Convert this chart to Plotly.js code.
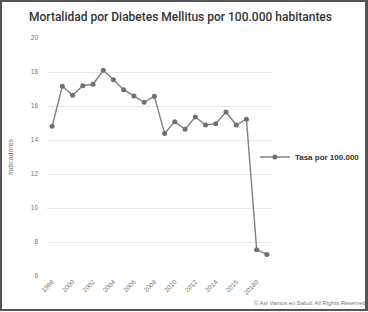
<!DOCTYPE html>
<html>
<head>
<meta charset="utf-8">
<script src="https://cdn.plot.ly/plotly-3.0.1.min.js"></script>
<style>
html,body{margin:0;padding:0;background:#fff;}
#frame{position:absolute;left:0;top:0;width:368px;height:311px;box-sizing:border-box;border:2px solid #555;border-right-width:3px;}
#chart{position:absolute;left:0;top:0;width:368px;height:312px;}
</style>
</head>
<body>
<div id="chart"></div>
<div id="frame"></div>
<script>
const years = ["1998","1999","2000","2001","2002","2003","2004","2005","2006","2007","2008","2009","2010","2011","2012","2013","2014","2015","2016","2017","2018","2019"];
const tasa = [14.81,17.16,16.63,17.19,17.28,18.10,17.55,16.96,16.59,16.22,16.57,14.38,15.08,14.63,15.35,14.88,14.96,15.65,14.88,15.22,7.55,7.27];
const xTickVals = ["1998","2000","2002","2004","2006","2008","2010","2012","2014","2016","2018"];
const xTickText = ["1998","2000","2002","2004","2006","2008","2010","2012","2014","2016","20180"];
const yTickVals = [6,8,10,12,14,16,18,20];
const seriesName = "Tasa por 100.000";

const trace = {
  x: years, y: tasa, type: "scatter", mode: "lines+markers", name: seriesName,
  line: {color: "#808080", width: 1.4},
  marker: {color: "#707070", size: 5}
};
const layout = {
  width: 368, height: 312,
  margin: {l: 47, r: 96, t: 38, b: 36, autoexpand: false},
  paper_bgcolor: "#fff", plot_bgcolor: "#fff",
  font: {family: "Liberation Sans, Arial, sans-serif", color: "#666", size: 7},
  title: {text: "Mortalidad por Diabetes Mellitus por 100.000 habitantes", x: 0.079, xanchor: "left", y: 0.945, yanchor: "middle",
          font: {family: "Roboto, Liberation Sans, sans-serif", size: 12, color: "#333", weight: 500}},
  xaxis: {type: "category", range: [-0.5, 21.5], tickvals: xTickVals, ticktext: xTickText, tickangle: -45,
          showgrid: false, zeroline: false, showline: false, ticks: "", tickfont: {size: 6.5, color: "#777"}},
  yaxis: {range: [6, 20], tickvals: yTickVals, showgrid: true, gridcolor: "#e6e6e6", gridwidth: 1, zeroline: false,
          ticks: "", ticklabelstandoff: 8, tickfont: {size: 6.5, color: "#777"},
          title: {text: "Indicadores", font: {size: 7, color: "#777"}, standoff: 16}},
  showlegend: true,
  legend: {x: 0.924, xanchor: "left", y: 0.5, yanchor: "middle", font: {size: 8, color: "#333", weight: "bold"}, itemwidth: 30, bgcolor: "rgba(0,0,0,0)"},
  annotations: [{text: "© Así Vamos en Salud. All Rights Reserved", xref: "paper", yref: "paper", x: 1.42, y: -0.115,
                 xanchor: "right", yanchor: "middle", showarrow: false, font: {size: 5.8, color: "#777"}}]
};
Plotly.newPlot("chart", [trace], layout, {displayModeBar: false, staticPlot: true});
</script>
</body>
</html>
